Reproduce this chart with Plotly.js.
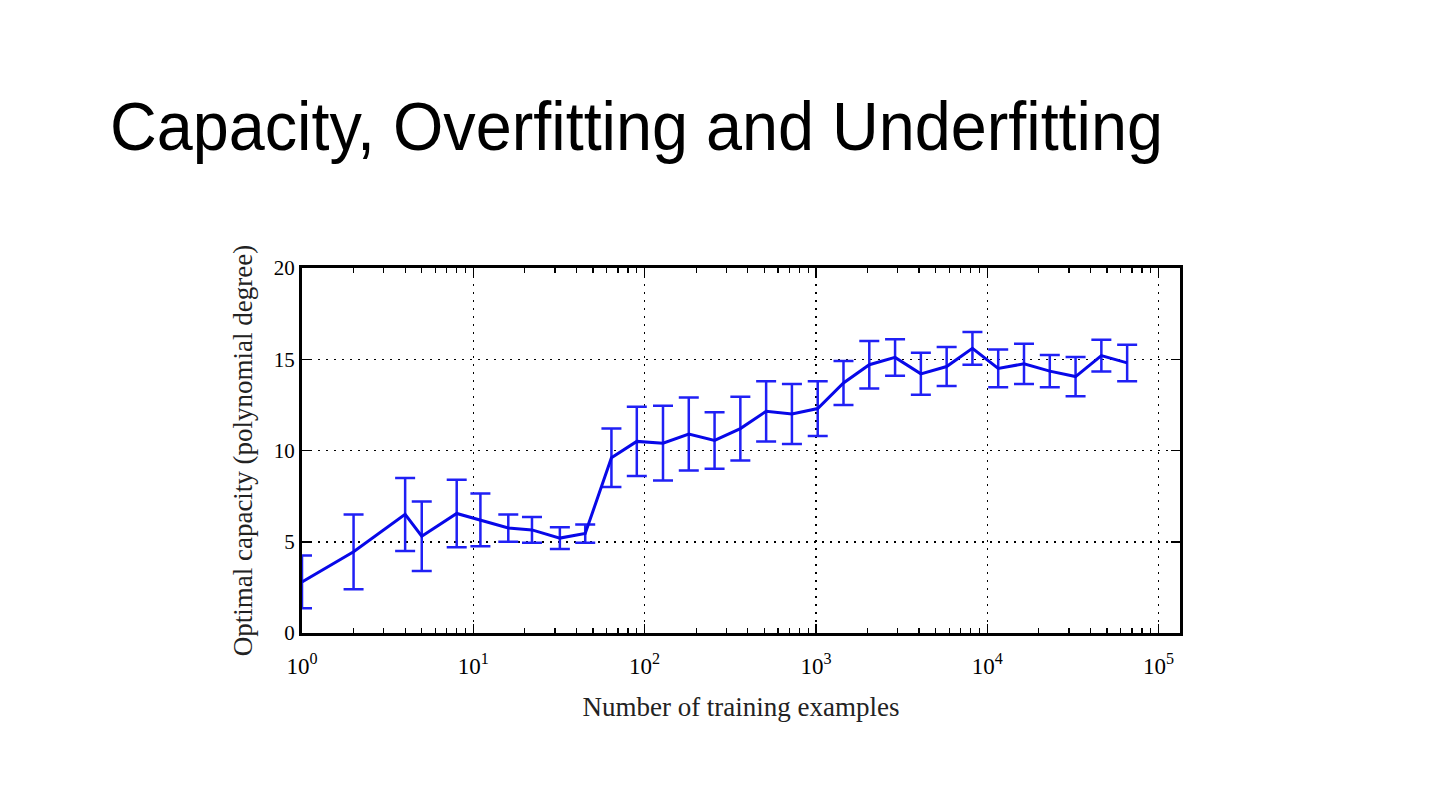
<!DOCTYPE html>
<html>
<head>
<meta charset="utf-8">
<script src="https://cdn.plot.ly/plotly-3.0.1.min.js"></script>
<style>html,body{margin:0;padding:0;background:#fff;}#chart{width:1440px;height:810px;}</style>
</head>
<body>
<div id="chart"></div>
<script>
const trainingExamples = [1,2,4,5,8,11,16,22,32,45,64,90,128,181,256,362,512,724,1024,1448,2048,2896,4096,5793,8192,11585,16384,23170,32768,46341,65536];
const optimalCapacity = [2.8,4.45,6.5,5.3,6.55,6.2,5.75,5.65,5.2,5.45,9.6,10.5,10.4,10.9,10.55,11.2,12.15,12.0,12.3,13.7,14.7,15.1,14.2,14.6,15.6,14.5,14.75,14.35,14.05,15.2,14.8];
const capacityError = [1.45,2.05,2.0,1.9,1.85,1.45,0.75,0.7,0.6,0.5,1.6,1.9,2.05,2.0,1.55,1.75,1.65,1.65,1.5,1.2,1.3,1.0,1.15,1.07,0.9,1.03,1.1,0.88,1.08,0.87,1.0];
const xTickVals = [1,10,100,1000,10000,100000];
const xTickText = ['10<sup>0</sup>','10<sup>1</sup>','10<sup>2</sup>','10<sup>3</sup>','10<sup>4</sup>','10<sup>5</sup>'];
const yTickVals = [0,5,10,15,20];
const minorVals = [];
for (let d = 1; d <= 10000; d *= 10) for (let k = 2; k <= 9; k++) minorVals.push(d*k);

const serif = '"Liberation Serif", "DejaVu Serif", serif';

const trace = {
  x: trainingExamples,
  y: optimalCapacity,
  type: 'scatter',
  mode: 'lines',
  line: {color: '#0808e8', width: 3},
  error_y: {type: 'data', array: capacityError, visible: true, color: '#2020f5', thickness: 2.5, width: 10},
  hoverinfo: 'x+y'
};

const layout = {
  width: 1440, height: 810,
  paper_bgcolor: '#ffffff', plot_bgcolor: '#ffffff',
  margin: {l: 302, r: 260, t: 268, b: 177},
  showlegend: false,
  title: {
    text: 'Capacity, Overfitting and Underfitting',
    font: {family: '"Liberation Sans Narrow", "Liberation Sans", Arial, sans-serif', size: 68, color: '#000'},
    xref: 'container', yref: 'container', x: 110/1440, xanchor: 'left', y: 1 - 126/810, yanchor: 'middle'
  },
  xaxis: {
    type: 'log',
    range: [0, 5.125],
    tickmode: 'array', tickvals: xTickVals, ticktext: xTickText,
    ticks: 'inside', ticklen: 9, tickwidth: 1.5, tickcolor: '#000',
    ticklabelstandoff: 10,
    showline: true, linecolor: '#000', linewidth: 3, mirror: 'allticks',
    showgrid: true, gridcolor: '#000', gridwidth: 1.5, griddash: '2px,6px',
    zeroline: false,
    tickfont: {family: serif, size: 23, color: '#000'},
    minor: {tickmode: 'array', tickvals: minorVals, ticks: 'inside', ticklen: 5, tickwidth: 1.2, tickcolor: '#000', showgrid: false},
    title: {text: 'Number of training examples', font: {family: serif, size: 27, color: '#222'}, standoff: 20}
  },
  yaxis: {
    range: [0, 20],
    tickmode: 'array', tickvals: yTickVals,
    ticks: 'inside', ticklen: 9, tickwidth: 1.5, tickcolor: '#000',
    showline: true, linecolor: '#000', linewidth: 3, mirror: 'allticks',
    showgrid: true, gridcolor: '#000', gridwidth: 1.5, griddash: '2px,6px',
    zeroline: false,
    tickfont: {family: serif, size: 21, color: '#000'},
    title: {text: 'Optimal capacity (polynomial degree)', font: {family: serif, size: 27, color: '#222'}, standoff: 14}
  }
};

Plotly.newPlot('chart', [trace], layout, {displayModeBar: false, staticPlot: true}).then(function (gd) {
  const t = gd.querySelector('.gtitle');
  if (t) {
    t.setAttribute('textLength', '1053');
    t.setAttribute('lengthAdjust', 'spacingAndGlyphs');
  }
});
</script>
</body>
</html>
